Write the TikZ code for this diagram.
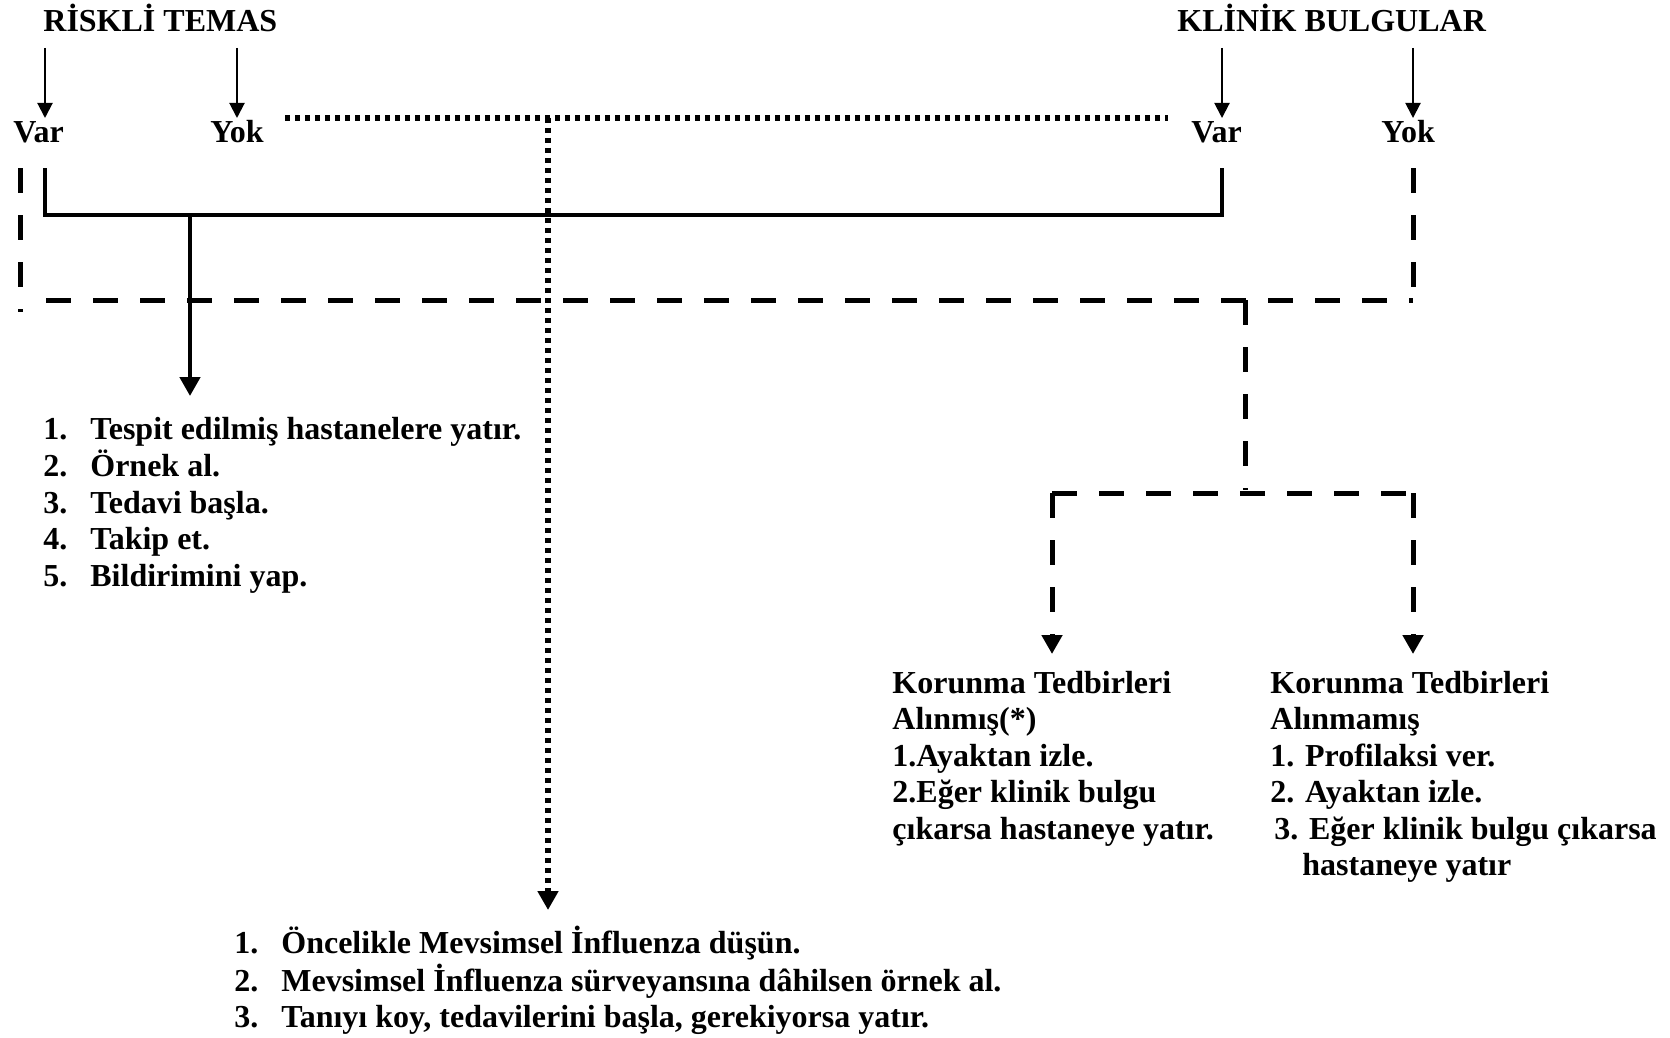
\documentclass[tikz,border=0pt]{standalone}
\usepackage{fontspec}
\setmainfont{Liberation Serif}
\usetikzlibrary{arrows.meta}
\newcommand{\nmb}[1]{\makebox[23.5pt][l]{#1}}
\newcommand{\lst}[1]{\begin{tabular}[t]{@{}l@{}}#1\end{tabular}}
\begin{document}
\begin{tikzpicture}[x=0.5pt,y=-0.5pt,
  txt/.style={anchor=base west,inner sep=0pt,font=\bfseries\fontsize{16}{18.25}\selectfont},
  thin arrow/.style={-{Triangle[width=7.5pt,length=7.5pt]},line width=1pt},
  solid line/.style={line width=2.25pt},
  dash line/.style={line width=2.5pt,dash pattern=on 12.5pt off 11pt},
  dot line/.style={line width=2.75pt,dash pattern=on 2.5pt off 2.5pt},
  big tip/.style={-{Triangle[width=10pt,length=9.5pt]}}]
\useasboundingbox (0,0) rectangle (1670,1038);
\node (rt) [txt] at (43,32) {RİSKLİ TEMAS};
\node (kb) [txt] at (1177,32) {KLİNİK BULGULAR};
\node (rvar) [txt] at (13,142) {Var};
\node (ryok) [txt] at (210,142) {Yok};
\node (kvar) [txt] at (1191,142) {Var};
\node (kyok) [txt] at (1381,142) {Yok};
\node (hst) [txt] at (43,439) {\lst{\nmb{1.}Tespit edilmiş hastanelere yatır.\\
  \nmb{2.}Örnek al.\\ \nmb{3.}Tedavi başla.\\ \nmb{4.}Takip et.\\ \nmb{5.}Bildirimini yap.}};
\node (alm) [txt] at (892,693) {\lst{Korunma Tedbirleri\\ Alınmış(*)\\ 1.Ayaktan izle.\\
  2.Eğer klinik bulgu\\ çıkarsa hastaneye yatır.}};
\node (alnm) [txt] at (1270,693) {\lst{Korunma Tedbirleri\\ Alınmamış\\ 1. Profilaksi ver.\\
  2. Ayaktan izle.\\ \hspace*{2pt}3. Eğer klinik bulgu çıkarsa\\ \hspace*{16pt}hastaneye yatır}};
\node (mvs) [txt] at (234,953) {\lst{\nmb{1.}Öncelikle Mevsimsel İnfluenza düşün.\\
  \nmb{2.}Mevsimsel İnfluenza sürveyansına dâhilsen örnek al.\\
  \nmb{3.}Tanıyı koy, tedavilerini başla, gerekiyorsa yatır.}};
% arrows below the two headings
\foreach \n/\x in {a/45,b/237,c/1222,d/1413} {
  \coordinate (\n top) at (\x,48);
  \coordinate (\n bot) at (\x,118);
  \draw[thin arrow] (\n top) -- (\n bot);}
% solid: Var - Var
\coordinate (v1) at (45,168); \coordinate (v2) at (45,215);
\coordinate (v3) at (1222,215); \coordinate (v4) at (1222,168);
\coordinate (s1) at (190,215); \coordinate (s2) at (190,396);
\draw[solid line] (v1) -- (v2) -- (v3) -- (v4);
\draw[solid line,big tip] (s1) -- (s2);
% dotted: Yok - Var
\coordinate (d1) at (285,118); \coordinate (d2) at (1168,118);
\coordinate (d3) at (548,118); \coordinate (d4) at (548,910);
\draw[dot line] (d1) -- (d2);
\draw[dot line,big tip] (d3) -- (d4);
% dashed: Yok
\coordinate (e1) at (20,168); \coordinate (e2) at (20,312);
\coordinate (h1) at (46,300); \coordinate (h2) at (1413,300); \coordinate (h3) at (1413,168);
\coordinate (b1) at (1245,300); \coordinate (b2) at (1245,490);
\coordinate (c1) at (1052,493); \coordinate (c2) at (1413,493);
\coordinate (t1) at (1052,654); \coordinate (t2) at (1413,654);
\draw[dash line] (e1) -- (e2);
\draw[dash line] (h1) -- (h2);
\draw[dash line] (h3) -- (h2);
\draw[dash line] (b1) -- (b2);
\draw[dash line] (c1) -- (c2);
\draw[dash line,big tip] (c1) -- (t1);
\draw[dash line,big tip] (c2) -- (t2);
\end{tikzpicture}
\end{document}
